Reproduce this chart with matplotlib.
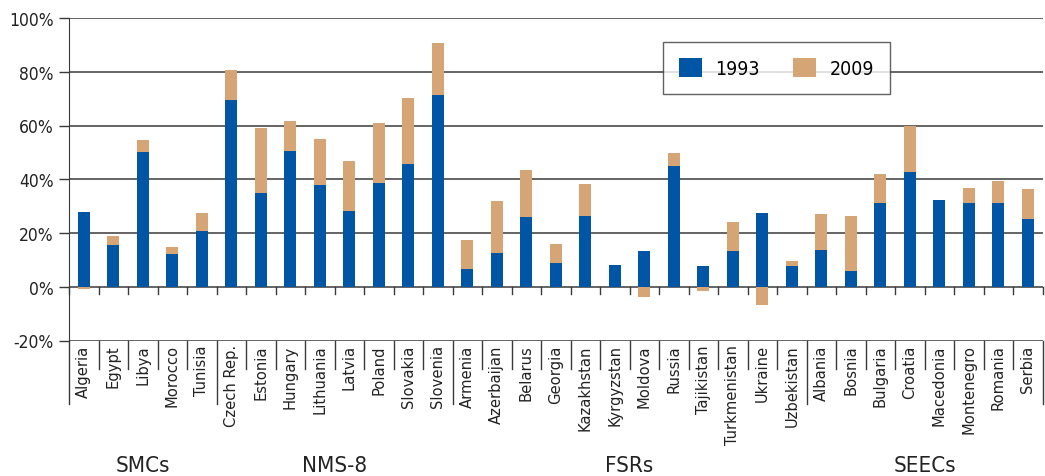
import matplotlib.pyplot as plt
import matplotlib.transforms as mtransforms
from matplotlib.patches import Patch
import numpy as np

plt.rcParams['font.family'] = ['DejaVu Sans']
plt.rcParams['font.stretch'] = 'condensed'

countries = ["Algeria", "Egypt", "Libya", "Morocco", "Tunisia",
             "Czech Rep.", "Estonia", "Hungary", "Lithuania", "Latvia", "Poland",
             "Slovakia", "Slovenia",
             "Armenia", "Azerbaijan", "Belarus", "Georgia", "Kazakhstan",
             "Kyrgyzstan", "Moldova", "Russia", "Tajikistan", "Turkmenistan",
             "Ukraine", "Uzbekistan",
             "Albania", "Bosnia", "Bulgaria", "Croatia", "Macedonia",
             "Montenegro", "Romania", "Serbia"]

v1993 = [28.0, 15.5, 50.2, 12.2, 20.7,
         69.6, 34.9, 50.6, 37.9, 28.2, 38.6, 45.7, 71.4,
         6.6, 12.5, 26.0, 8.8, 26.3, 8.1, 13.3, 45.0, 7.7, 13.3, 27.5, 7.7,
         13.7, 5.8, 31.2, 42.7, 32.3, 31.2, 31.2, 25.2]

v2009 = [27.3, 18.9, 54.7, 14.8, 27.5,
         80.7, 59.1, 61.7, 55.0, 46.8, 61.0, 70.3, 90.8,
         17.4, 31.9, 43.5, 15.9, 38.3, 8.0, 9.4, 49.8, 6.1, 24.1, 20.7, 9.6,
         27.1, 26.3, 42.0, 59.9, 32.3, 36.8, 39.4, 36.4]

groups = ["SMCs", "NMS-8", "FSRs", "SEECs"]
group_sizes = [5, 8, 12, 8]

blue = "#0055a5"
tan = "#d6a576"
line_col = "#3a3a3a"
text_col = "#222222"

fig = plt.figure(figsize=(10.45, 4.77), dpi=100)
ax = fig.add_axes([69 / 1045, 1 - 341.5 / 477, 973.5 / 1045, 322.5 / 477])

x = np.arange(len(countries))
a = np.array(v1993)
b = np.array(v2009)
delta = b - a
# Excel-style stacking: negative changes hang below zero
bottom2 = np.where(delta >= 0, a, 0)

ax.bar(x, a, width=0.41, color=blue, zorder=3)
ax.bar(x, delta, width=0.41, bottom=bottom2, color=tan, zorder=3)

ax.set_xlim(-0.5, len(countries) - 0.5)
ax.set_ylim(-20, 100)
yt = np.arange(-20, 101, 20)
ax.set_yticks(yt)
ax.set_yticklabels([f"{v}%" for v in yt], fontsize=12.5, color=text_col)
ax.tick_params(axis='y', length=7, width=1, color=line_col, pad=4)
ax.set_xticks([])
for s in ["top", "right", "bottom"]:
    ax.spines[s].set_visible(False)
ax.spines["left"].set_color(line_col)
ax.spines["left"].set_bounds(-20, 100)

for v in yt:
    ax.axhline(v, color=line_col, lw=1.1, zorder=1)

trans = mtransforms.blended_transform_factory(ax.transData, ax.transAxes)
bounds = np.arange(len(countries) + 1) - 0.5
edges = np.cumsum([0] + group_sizes) - 0.5
zero_ax = 20 / 120
for xb in bounds:
    # small ticks on the zero line
    ax.plot([xb, xb], [zero_ax, zero_ax - 0.022], transform=trans,
            color=line_col, lw=1, clip_on=False, zorder=2)
    low = -0.198 if xb in edges else -0.088
    ax.plot([xb, xb], [0, low], transform=trans, color=line_col, lw=1,
            clip_on=False)

for i, name in enumerate(countries):
    ax.text(i, -0.012, name, transform=trans, rotation=90, ha="center",
            va="top", fontsize=11.8, color=text_col)

start = 0
for g, n in zip(groups, group_sizes):
    cx = start + (n - 1) / 2
    ax.text(cx, -0.385, g, transform=trans, ha="center", va="center",
            fontsize=16, color=text_col)
    start += n

handles = [Patch(facecolor=blue, label="1993"), Patch(facecolor=tan, label="2009")]
leg = ax.legend(handles=handles, ncol=2, loc="upper left",
                bbox_to_anchor=(663 / 1045, 1 - 43 / 477),
                bbox_transform=fig.transFigure, fontsize=14, frameon=True,
                fancybox=False, handlelength=1.2, handleheight=1.2,
                handletextpad=0.7, columnspacing=1.7, borderpad=0.8,
                borderaxespad=0)
leg.get_frame().set_edgecolor(line_col)
leg.get_frame().set_linewidth(1)
leg.set_zorder(5)

fig.savefig("out.png", dpi=100)
